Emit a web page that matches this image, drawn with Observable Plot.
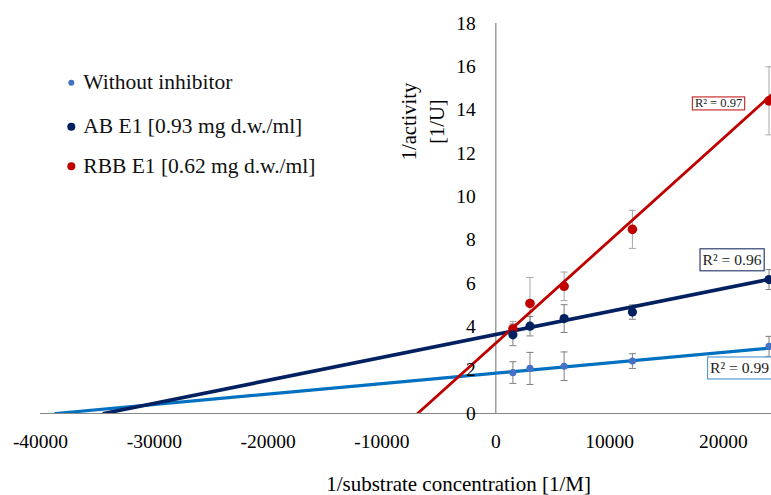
<!DOCTYPE html>
<html>
<head>
<meta charset="utf-8">
<script src="https://cdn.jsdelivr.net/npm/d3@7"></script>
<script src="https://cdn.jsdelivr.net/npm/@observablehq/plot@0.6"></script>
<style>
  body { margin: 0; background: #fff; }
  #wrap { position: relative; width: 771px; height: 495px; overflow: hidden; font-family: "Liberation Serif", serif; }
  #legend { position: absolute; left: 0; top: 0; }
</style>
</head>
<body>
<div id="wrap"></div>
<script>
// ---- data ----
const xValues = [1500, 3000, 6000, 12000, 24000];
const seriesNames = ["Without inhibitor", "AB E1 [0.93 mg d.w./ml]", "RBB E1 [0.62 mg d.w./ml]"];
const withoutInhibitor    = [1.89, 2.08, 2.18, 2.42, 3.10];
const withoutInhibitorErr = [0.50, 0.74, 0.66, 0.34, 0.46];
const abE1                = [3.63, 4.03, 4.38, 4.68, 6.18];
const abE1Err             = [0.50, 0.45, 0.64, 0.33, 0.46];
const rbbE1               = [3.90, 5.08, 5.87, 8.50, 14.43];
const rbbE1Err            = [0.35, 1.20, 0.66, 0.88, 1.57];
const trendIntercept = [1.86, 3.65, 3.25];
const trendSlope     = [4.81e-5, 1.06e-4, 4.73e-4];
const r2Labels = ["R\u00B2 = 0.99", "R\u00B2 = 0.96", "R\u00B2 = 0.97"];
const xTicks = [-40000, -30000, -20000, -10000, 0, 10000, 20000];
const yTicks = [0, 2, 4, 6, 8, 10, 12, 14, 16, 18];

// ---- styles ----
const xMax = 24218;
const dotColor  = ["#4472C4", "#002060", "#C00000"];
const lineColor = ["#0070C0", "#002060", "#C00000"];
const errColor  = ["#7f7f7f", "#7f7f7f", "#a6a6a6"];
const boxColor  = ["#5B9BD5", "#2F3F6F", "#C83030"];
const dotR      = [3.6, 4.6, 4.8];
const lineW     = [3.2, 3.6, 2.8];
const r2Font    = [15.6, 15.6, 12.5];
const r2dx      = [-29.5, -37, -50.5];
const r2dy      = [20.3, -19, 6.3];

const values = [withoutInhibitor, abE1, rbbE1];
const errs = [withoutInhibitorErr, abE1Err, rbbE1Err];
const rows = values.map((vals, i) => vals.map((v, j) => ({series: i, x: xValues[j], y: v, err: errs[i][j]})));
const trends = trendIntercept.map((b, i) => [
  {x: -b / trendSlope[i], y: 0},
  {x: xMax, y: b + trendSlope[i] * xMax}
]);

const capSymbol = { draw(ctx, size) { const r = Math.sqrt(size / Math.PI); ctx.moveTo(-r, 0); ctx.lineTo(r, 0); } };

const marks = [];
marks.push(Plot.ruleY([0], {stroke: "#868686", strokeWidth: 1.2}));
marks.push(Plot.ruleX([0], {y1: 0, y2: 18, stroke: "#868686", strokeWidth: 1.2}));
// error bars
[2, 1, 0].forEach(i => {
  marks.push(Plot.ruleX(rows[i], {x: "x", y1: d => d.y - d.err, y2: d => d.y + d.err, stroke: errColor[i], strokeWidth: 1}));
  marks.push(Plot.dot(rows[i], {x: "x", y: d => d.y + d.err, symbol: capSymbol, r: 3.5, fill: "none", stroke: errColor[i], strokeWidth: 1}));
  marks.push(Plot.dot(rows[i], {x: "x", y: d => d.y - d.err, symbol: capSymbol, r: 3.5, fill: "none", stroke: errColor[i], strokeWidth: 1}));
});
// trend lines
[0, 1, 2].forEach(i => {
  marks.push(Plot.line(trends[i], {x: "x", y: "y", stroke: lineColor[i], strokeWidth: lineW[i], clip: true}));
});
// points
[2, 1, 0].forEach(i => {
  marks.push(Plot.dot(rows[i], {x: "x", y: "y", r: dotR[i], fill: dotColor[i], stroke: "none"}));
});
// tick labels
marks.push(Plot.text(yTicks, {x: 0, y: d => d, text: d => String(d), dx: -20, textAnchor: "end", fontSize: 19.5}));
marks.push(Plot.text(xTicks, {x: d => d, y: 0, text: d => String(d), dy: 28.5, fontSize: 19.5}));
// axis titles
marks.push(Plot.text(["1/substrate concentration [1/M]"], {frameAnchor: "bottom", textAnchor: "middle", lineAnchor: "middle", dx: 52.5, dy: 71, fontSize: 21}));
marks.push(Plot.text(["1/activity\n[1/U]"], {frameAnchor: "top-left", textAnchor: "middle", lineAnchor: "middle", dx: 381, dy: 98, rotate: -90, lineHeight: 1.36, fontSize: 20.5}));
// R² labels
[0, 1, 2].forEach(i => {
  const last = rows[i][rows[i].length - 1];
  marks.push(Plot.text([r2Labels[i]], {x: last.x, y: trendIntercept[i] + trendSlope[i] * last.x, text: d => d, dx: r2dx[i], dy: r2dy[i], fontSize: r2Font[i], fill: "#222"}));
});

const chart = Plot.plot({
  width: 771,
  height: 495,
  marginLeft: 40,
  marginRight: 0,
  marginTop: 23,
  marginBottom: 82,
  x: {domain: [-40000, xMax], axis: null},
  y: {domain: [0, 18], axis: null},
  style: {fontFamily: "Liberation Serif, serif", color: "#000", background: "#fff", overflow: "hidden"},
  marks
});

const wrap = document.getElementById("wrap");
wrap.appendChild(chart);

// boxes around R² labels
d3.select(chart).selectAll("text").each(function() {
  const i = r2Labels.indexOf(this.textContent);
  if (i < 0) return;
  const bb = this.getBBox();
  const padX = 2.5, padY = i === 2 ? -0.5 : 2.5;
  d3.select(this.parentNode).insert("rect", () => this)
    .attr("transform", this.getAttribute("transform"))
    .attr("x", bb.x - padX).attr("y", bb.y - padY)
    .attr("width", bb.width + 2 * padX).attr("height", bb.height + 2 * padY)
    .attr("fill", "#fff").attr("stroke", boxColor[i]).attr("stroke-width", 1.2);
});

// legend (inside the picture, top-left)
const legendBaselines = [89.3, 133.3, 172.7];
const legendDotR = [3, 4, 4];
const leg = d3.select(wrap).append("svg").attr("id", "legend").attr("width", 340).attr("height", 200);
seriesNames.forEach((name, i) => {
  leg.append("circle").attr("cx", 71.3).attr("cy", legendBaselines[i] - 6.5).attr("r", legendDotR[i]).attr("fill", dotColor[i]);
  leg.append("text").attr("x", 83.3).attr("y", legendBaselines[i]).attr("font-size", 21.5)
    .attr("font-family", "Liberation Serif, serif").attr("fill", "#111").text(name);
});
</script>
</body>
</html>
